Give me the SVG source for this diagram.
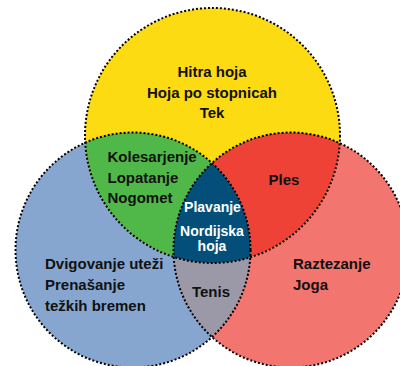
<svg xmlns="http://www.w3.org/2000/svg" width="400" height="366" viewBox="0 0 400 366">
  <defs>
    <clipPath id="clipY"><circle cx="212.5" cy="135.5" r="127.5"/></clipPath>
    <clipPath id="clipB"><circle cx="133" cy="250" r="117.5"/></clipPath>
    <clipPath id="clipR"><circle cx="291" cy="250" r="117.5"/></clipPath>
  </defs>
  <style>
    .lbl { font-family: "Liberation Sans", Arial, sans-serif; font-weight: bold; font-size: 15px; fill: #111; }
    .w { fill: #fff; font-size: 14px; }
    .mid { text-anchor: middle; }
    .edge { fill: none; stroke: #000; stroke-width: 2; stroke-dasharray: 2 2; }
  </style>
  <rect width="400" height="366" fill="#fff"/>
  <g id="circles">
    <circle id="blue" cx="133" cy="250" r="117.5" fill="#86A6CF"/>
    <circle id="red" cx="291" cy="250" r="117.5" fill="#F3756F"/>
    <circle id="yellow" cx="212.5" cy="135.5" r="127.5" fill="#FDDB13"/>
    <g clip-path="url(#clipY)">
      <circle id="green" cx="133" cy="250" r="117.5" fill="#50B848"/>
      <circle id="redmix" cx="291" cy="250" r="117.5" fill="#EE4236"/>
    </g>
    <g clip-path="url(#clipB)">
      <circle id="gray" cx="291" cy="250" r="117.5" fill="#9B99A8"/>
      <g clip-path="url(#clipR)">
        <circle id="navy" cx="212.5" cy="135.5" r="127.5" fill="#044F79"/>
      </g>
    </g>
    <circle class="edge" cx="133" cy="250" r="117.5"/>
    <circle class="edge" cx="291" cy="250" r="117.5"/>
    <circle class="edge" cx="212.5" cy="135.5" r="127.5"/>
  </g>
  <g id="node-yellow">
    <text class="lbl mid" x="212" y="77">Hitra hoja</text>
    <text class="lbl mid" x="212" y="97.5">Hoja po stopnicah</text>
    <text class="lbl mid" x="212" y="118">Tek</text>
  </g>
  <g id="node-green">
    <text class="lbl" x="107.5" y="161.5">Kolesarjenje</text>
    <text class="lbl" x="107.5" y="182.5">Lopatanje</text>
    <text class="lbl" x="107.5" y="203">Nogomet</text>
  </g>
  <g id="node-red">
    <text class="lbl mid" x="284" y="185">Ples</text>
  </g>
  <g id="node-center">
    <text class="lbl w mid" x="212.5" y="212">Plavanje</text>
    <text class="lbl w mid" x="212" y="236">Nordijska</text>
    <text class="lbl w mid" x="212" y="251">hoja</text>
  </g>
  <g id="node-blue">
    <text class="lbl" x="45" y="269">Dvigovanje uteži</text>
    <text class="lbl" x="45" y="289.5">Prenašanje</text>
    <text class="lbl" x="45" y="310.5">težkih bremen</text>
  </g>
  <g id="node-gray">
    <text class="lbl mid" x="211" y="297">Tenis</text>
  </g>
  <g id="node-salmon">
    <text class="lbl" x="293" y="269">Raztezanje</text>
    <text class="lbl" x="293" y="290">Joga</text>
  </g>
</svg>
